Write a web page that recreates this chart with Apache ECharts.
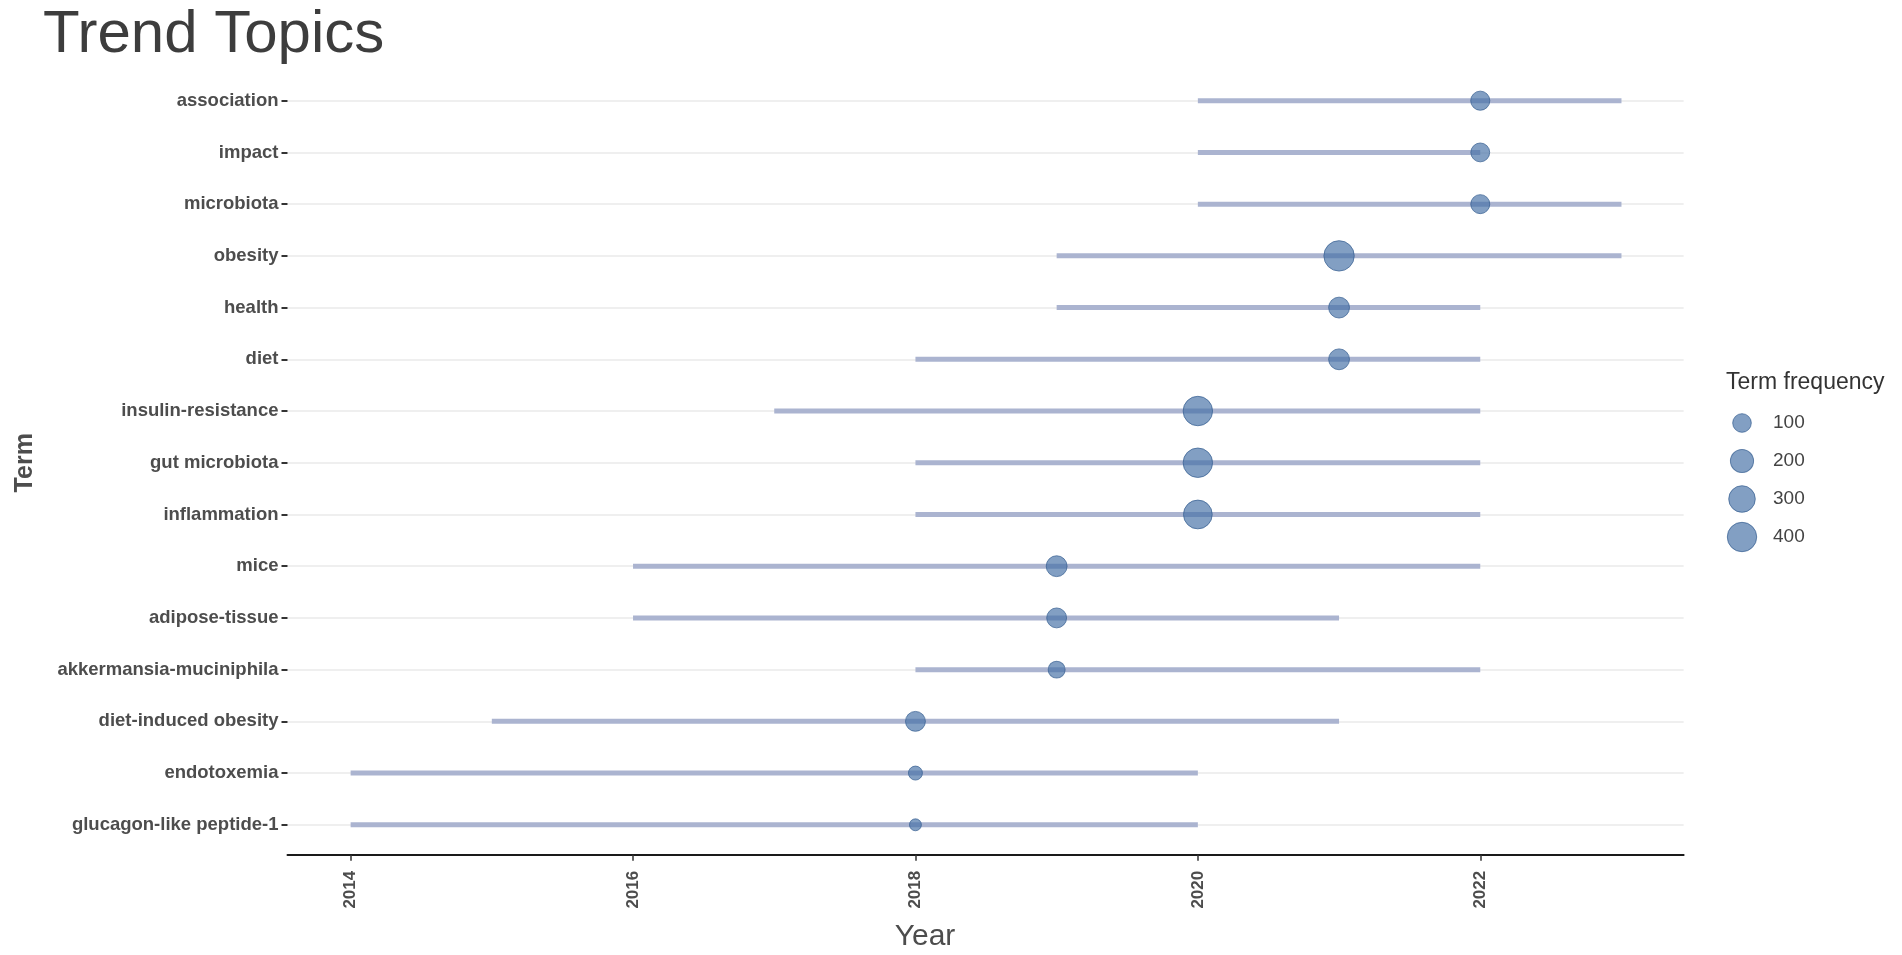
<!DOCTYPE html>
<html lang="en">
<head>
    <meta charset="UTF-8">
    <title>Trend Topics</title>
    <script src="https://cdn.jsdelivr.net/npm/echarts/dist/echarts.min.js"></script>
    <style>
        html, body { margin: 0; padding: 0; background: #fff; }
        #main { width: 1902px; height: 955px; }
    </style>
</head>
<body>
<div id="main"></div>
<script type="text/javascript">
    // terms listed bottom -> top, as on the y axis
    var terms = ['glucagon-like peptide-1', 'endotoxemia', 'diet-induced obesity', 'akkermansia-muciniphila',
        'adipose-tissue', 'mice', 'inflammation', 'gut microbiota', 'insulin-resistance', 'diet',
        'health', 'obesity', 'microbiota', 'impact', 'association'];
    var yearStart  = [2014, 2014, 2015, 2018, 2016, 2016, 2018, 2018, 2017, 2018, 2019, 2019, 2020, 2020, 2020];
    var yearEnd    = [2020, 2020, 2021, 2022, 2021, 2022, 2022, 2022, 2022, 2022, 2022, 2023, 2023, 2022, 2023];
    var yearMedian = [2018, 2018, 2018, 2019, 2019, 2019, 2020, 2020, 2020, 2021, 2021, 2021, 2022, 2022, 2022];
    var termFreq   = [26, 40, 125, 74, 125, 145, 377, 403, 403, 145, 145, 440, 108, 105, 110];
    var yearTicks  = [2014, 2016, 2018, 2020, 2022];
    var sizeBreaks = ['100', '200', '300', '400'];

    var FONT = 'Liberation Sans, Arial, sans-serif';
    var freqMin = 20, freqMax = 440;

    // diameter grows with the square root of frequency (area scale)
    function sizeOf(f) {
        var s = Math.sqrt(Math.max(f - freqMin, 0) / (freqMax - freqMin));
        return 9.4 + 21 * s;
    }

    var segData = [], dotData = [], legendData = [];
    for (var i = 0; i < terms.length; i++) {
        segData.push([yearStart[i], yearEnd[i], i]);
        dotData.push([yearMedian[i], i, termFreq[i]]);
    }
    for (var j = 0; j < sizeBreaks.length; j++) {
        legendData.push([0, j, +sizeBreaks[j]]);
    }

    var dotStyle = { color: 'rgba(68,112,166,0.84)', borderColor: 'rgba(55,95,145,0.9)', borderWidth: 1 };

    var myChart = echarts.init(document.getElementById('main'));

    myChart.setOption({
        backgroundColor: '#ffffff',
        animation: false,
        textStyle: { fontFamily: FONT },
        title: [{
            text: 'Trend Topics',
            left: 38,
            top: 0,
            textStyle: { fontFamily: FONT, fontSize: 60, fontWeight: 'normal', color: '#3d3d3d' }
        }, {
            text: 'Term frequency',
            left: 1721,
            top: 366,
            textStyle: { fontFamily: FONT, fontSize: 23, fontWeight: 'normal', color: '#333333' }
        }],
        graphic: [{
            type: 'text',
            x: 925,
            y: 937,
            style: {
                text: 'Year',
                font: '30px ' + FONT,
                fill: '#4d4d4d',
                textAlign: 'center',
                textVerticalAlign: 'middle'
            }
        }],
        grid: [{
            left: 287.5,
            right: 218.4,
            top: 100.7,
            bottom: 130.2
        }, {
            left: 1722,
            width: 40,
            top: 404,
            height: 152
        }],
        xAxis: [{
            type: 'value',
            gridIndex: 0,
            min: 2013.553,
            max: 2023.44,
            offset: 30,
            axisLine: { show: true, onZero: false, lineStyle: { color: '#1a1a1a', width: 2 } },
            axisTick: { show: true, length: 6, customValues: yearTicks, lineStyle: { color: '#333', width: 1.5 } },
            axisLabel: {
                rotate: 90,
                margin: 16,
                customValues: yearTicks,
                formatter: function (v) { return String(v); },
                fontFamily: FONT,
                fontSize: 17,
                fontWeight: 'bold',
                color: '#4d4d4d'
            },
            splitLine: { show: false }
        }, {
            type: 'value',
            gridIndex: 1,
            min: -1,
            max: 1,
            show: false
        }],
        yAxis: [{
            type: 'category',
            gridIndex: 0,
            data: terms,
            boundaryGap: false,
            name: 'Term',
            nameLocation: 'middle',
            nameGap: 250,
            nameRotate: 90,
            nameTextStyle: { fontFamily: FONT, fontSize: 25, fontWeight: 'bold', color: '#4d4d4d' },
            axisLine: { show: false },
            axisTick: { show: true, length: 6, alignWithLabel: true, lineStyle: { color: '#333', width: 2 } },
            axisLabel: {
                margin: 9,
                fontFamily: FONT,
                fontSize: 18.5,
                fontWeight: 'bold',
                color: '#4d4d4d'
            },
            splitLine: { show: true, lineStyle: { color: '#efefef', width: 2 } }
        }, {
            type: 'category',
            gridIndex: 1,
            data: sizeBreaks,
            inverse: true,
            position: 'right',
            axisLine: { show: false },
            axisTick: { show: false },
            axisLabel: { margin: 11, fontFamily: FONT, fontSize: 19, color: '#444444' },
            splitLine: { show: false }
        }],
        series: [{
            type: 'custom',
            xAxisIndex: 0,
            yAxisIndex: 0,
            data: segData,
            encode: { x: [0, 1], y: 2 },
            z: 2,
            renderItem: function (params, api) {
                var a = api.coord([api.value(0), api.value(2)]);
                var b = api.coord([api.value(1), api.value(2)]);
                return {
                    type: 'line',
                    shape: { x1: a[0], y1: a[1], x2: b[0], y2: b[1] },
                    style: { stroke: '#abb4d0', lineWidth: 5 }
                };
            }
        }, {
            type: 'scatter',
            xAxisIndex: 0,
            yAxisIndex: 0,
            data: dotData,
            z: 3,
            symbolSize: function (val) { return sizeOf(val[2]); },
            itemStyle: dotStyle
        }, {
            type: 'scatter',
            xAxisIndex: 1,
            yAxisIndex: 1,
            data: legendData,
            symbolSize: function (val) { return sizeOf(val[2]); },
            itemStyle: dotStyle
        }]
    });
</script>
</body>
</html>
